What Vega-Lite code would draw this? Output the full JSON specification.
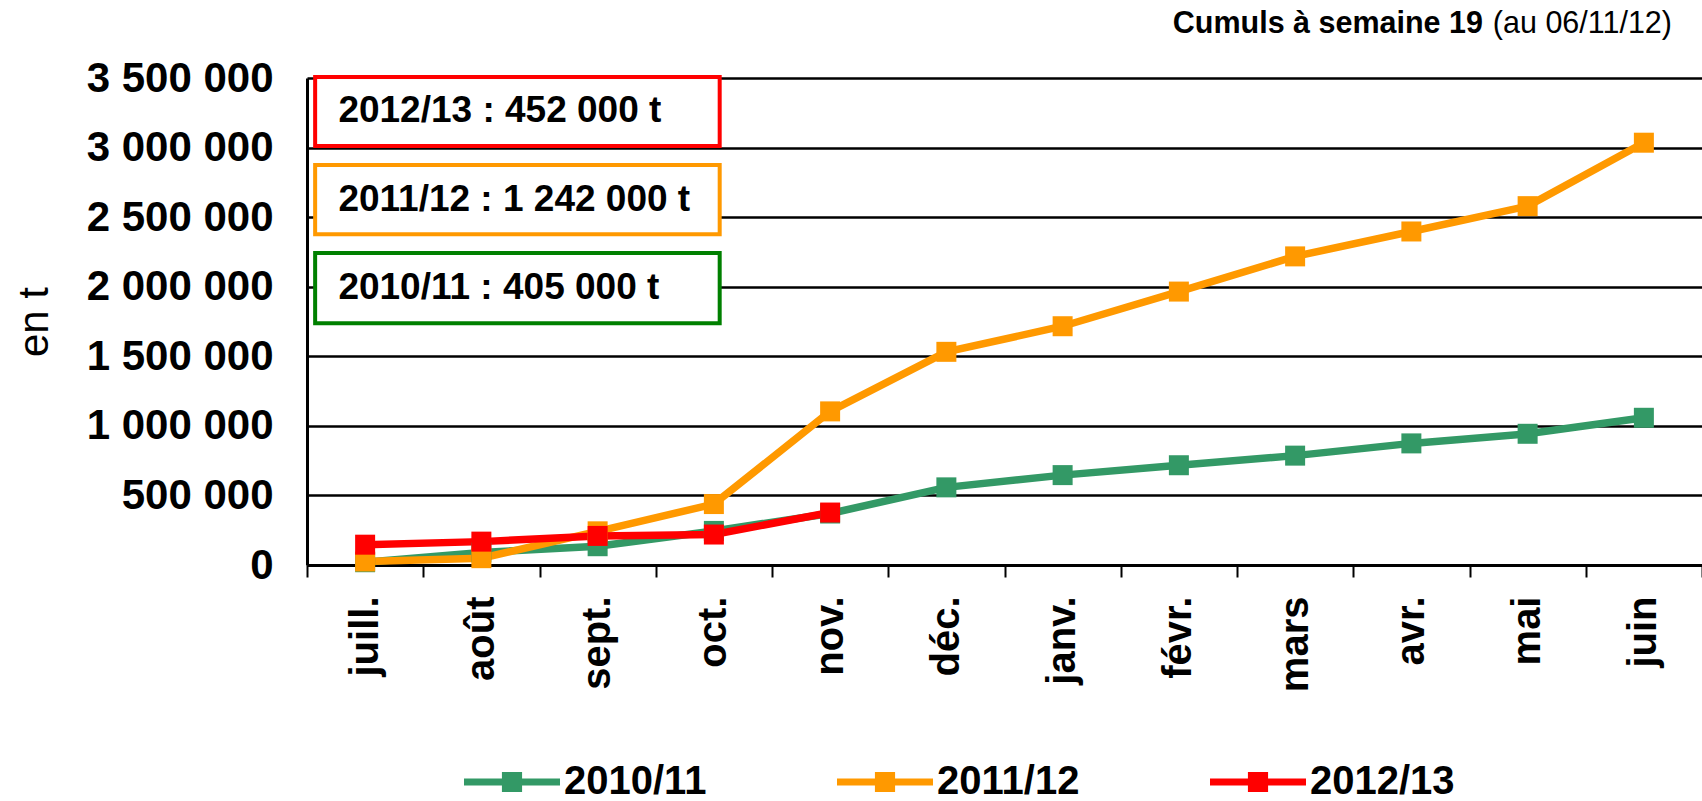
{
  "$schema": "https://vega.github.io/schema/vega-lite/v6.json",
  "width": 1395,
  "height": 487,
  "autosize": {"type": "none"},
  "padding": {"left": 307, "top": 78, "right": 0, "bottom": 236},
  "background": "white",
  "config": {"font": "Liberation Sans", "view": {"stroke": null}},
  "datasets": {
    "series": [
      {"saison": "2010/11", "mois": "juill.", "valeur": 20000},
      {"saison": "2010/11", "mois": "août", "valeur": 90000},
      {"saison": "2010/11", "mois": "sept.", "valeur": 135000},
      {"saison": "2010/11", "mois": "oct.", "valeur": 245000},
      {"saison": "2010/11", "mois": "nov.", "valeur": 370000},
      {"saison": "2010/11", "mois": "déc.", "valeur": 558000},
      {"saison": "2010/11", "mois": "janv.", "valeur": 646000},
      {"saison": "2010/11", "mois": "févr.", "valeur": 717000},
      {"saison": "2010/11", "mois": "mars", "valeur": 786000},
      {"saison": "2010/11", "mois": "avr.", "valeur": 874000},
      {"saison": "2010/11", "mois": "mai", "valeur": 943000},
      {"saison": "2010/11", "mois": "juin", "valeur": 1058000},
      {"saison": "2011/12", "mois": "juill.", "valeur": 25000},
      {"saison": "2011/12", "mois": "août", "valeur": 49000},
      {"saison": "2011/12", "mois": "sept.", "valeur": 242000},
      {"saison": "2011/12", "mois": "oct.", "valeur": 438000},
      {"saison": "2011/12", "mois": "nov.", "valeur": 1104000},
      {"saison": "2011/12", "mois": "déc.", "valeur": 1532000},
      {"saison": "2011/12", "mois": "janv.", "valeur": 1716000},
      {"saison": "2011/12", "mois": "févr.", "valeur": 1965000},
      {"saison": "2011/12", "mois": "mars", "valeur": 2218000},
      {"saison": "2011/12", "mois": "avr.", "valeur": 2397000},
      {"saison": "2011/12", "mois": "mai", "valeur": 2579000},
      {"saison": "2011/12", "mois": "juin", "valeur": 3035000},
      {"saison": "2012/13", "mois": "juill.", "valeur": 146000},
      {"saison": "2012/13", "mois": "août", "valeur": 168000},
      {"saison": "2012/13", "mois": "sept.", "valeur": 209000},
      {"saison": "2012/13", "mois": "oct.", "valeur": 219000},
      {"saison": "2012/13", "mois": "nov.", "valeur": 377000}
    ],
    "encadres": [
      {"saison": "2012/13", "texte": "2012/13 : 452 000 t", "haut": 3507000, "bas": 3012000, "milieu": 3259500},
      {"saison": "2011/12", "texte": "2011/12 : 1 242 000 t", "haut": 2875000, "bas": 2377000, "milieu": 2626000},
      {"saison": "2010/11", "texte": "2010/11 : 405 000 t", "haut": 2243000, "bas": 1737000, "milieu": 1990000}
    ],
    "titre": [
      {"partie": "gras", "texte": "Cumuls à semaine 19"},
      {"partie": "normal", "texte": "(au 06/11/12)"}
    ]
  },
  "layer": [
    {
      "data": {"name": "series"},
      "mark": {
        "type": "line",
        "strokeWidth": 7.5,
        "point": {"shape": "square", "size": 400, "filled": true, "opacity": 1}
      },
      "encoding": {
        "x": {
          "field": "mois",
          "type": "ordinal",
          "sort": ["juill.", "août", "sept.", "oct.", "nov.", "déc.", "janv.", "févr.", "mars", "avr.", "mai", "juin"],
          "bandPosition": 0.5,
          "scale": {"type": "band", "paddingInner": 0, "paddingOuter": 0},
          "axis": {
            "title": null,
            "labelAngle": -90,
            "labelAlign": "right",
            "labelBaseline": "middle",
            "labelFont": "Liberation Sans",
            "labelFontSize": 40,
            "labelFontWeight": "bold",
            "labelColor": "black",
            "labelLimit": 0,
            "labelPadding": 19,
            "tickSize": 12,
            "tickColor": "black",
            "tickWidth": 2,
            "tickBand": "extent",
            "domainColor": "black",
            "domainWidth": 3,
            "grid": false
          }
        },
        "y": {
          "field": "valeur",
          "type": "quantitative",
          "scale": {"domain": [0, 3500000], "nice": false, "zero": true},
          "axis": {
            "title": "en t",
            "titleFont": "Liberation Sans",
            "titleFontSize": 42,
            "titleFontWeight": "normal",
            "titleColor": "black",
            "titlePadding": 51,
            "values": [0, 500000, 1000000, 1500000, 2000000, 2500000, 3000000, 3500000],
            "labelExpr": "replace(format(datum.value, ','), regexp(',', 'g'), ' ')",
            "labelFont": "Liberation Sans",
            "labelFontSize": 42,
            "labelFontWeight": "bold",
            "labelColor": "black",
            "labelLimit": 0,
            "labelPadding": 34,
            "tickSize": 0,
            "domainColor": "black",
            "domainWidth": 3,
            "grid": true,
            "gridColor": "black",
            "gridWidth": 2.5,
            "gridOpacity": 1
          }
        },
        "color": {
          "field": "saison",
          "type": "nominal",
          "scale": {"domain": ["2010/11", "2011/12", "2012/13"], "range": ["#339966", "#FF9900", "#FF0000"]},
          "legend": {
            "orient": "none",
            "legendX": 157,
            "legendY": 656,
            "padding": 0,
            "direction": "horizontal",
            "title": null,
            "labelFont": "Liberation Sans",
            "labelFontSize": 40,
            "labelFontWeight": "bold",
            "labelColor": "black",
            "labelLimit": 0,
            "labelOffset": 4,
            "columnPadding": 130,
            "symbolType": "M-1,-0.073H-0.21V-0.21H0.21V-0.073H1V0.073H0.21V0.21H-0.21V0.073H-1Z",
            "symbolSize": 9216,
            "symbolStrokeWidth": 0,
            "symbolOpacity": 1,
            "encode": {
              "symbols": {
                "update": {
                  "fill": {"scale": "color", "field": "value"},
                  "stroke": {"value": "transparent"}
                }
              }
            }
          }
        }
      }
    },
    {
      "layer": [
        {
          "data": {"name": "encadres"},
          "mark": {"type": "rect", "fill": "white", "strokeWidth": 4},
          "encoding": {
            "x": {"datum": 0.07, "type": "quantitative", "scale": {"domain": [0, 12], "nice": false, "zero": false}, "axis": null},
            "x2": {"datum": 3.55},
            "y": {"field": "haut", "type": "quantitative", "title": "en t"},
            "y2": {"field": "bas"},
            "stroke": {
              "field": "saison",
              "type": "nominal",
              "scale": {"domain": ["2010/11", "2011/12", "2012/13"], "range": ["#008000", "#FF9900", "#FF0000"]},
              "legend": null
            }
          }
        },
        {
          "data": {"name": "encadres"},
          "mark": {"type": "text", "align": "left", "baseline": "middle", "font": "Liberation Sans", "fontSize": 37, "fontWeight": "bold", "color": "black"},
          "encoding": {
            "x": {"datum": 0.27, "type": "quantitative"},
            "y": {"field": "milieu", "type": "quantitative", "title": "en t"},
            "text": {"field": "texte"}
          }
        },
        {
          "data": {"name": "titre"},
          "transform": [{"filter": "datum.partie === 'gras'"}],
          "mark": {"type": "text", "align": "right", "baseline": "middle", "font": "Liberation Sans", "fontSize": 30.5, "fontWeight": "bold", "color": "black"},
          "encoding": {
            "x": {"datum": 10.116, "type": "quantitative"},
            "y": {"datum": 3891000, "type": "quantitative", "title": "en t"},
            "text": {"field": "texte"}
          }
        },
        {
          "data": {"name": "titre"},
          "transform": [{"filter": "datum.partie === 'normal'"}],
          "mark": {"type": "text", "align": "right", "baseline": "middle", "font": "Liberation Sans", "fontSize": 30.5, "fontWeight": "normal", "color": "black"},
          "encoding": {
            "x": {"datum": 11.742, "type": "quantitative"},
            "y": {"datum": 3891000, "type": "quantitative", "title": "en t"},
            "text": {"field": "texte"}
          }
        }
      ]
    }
  ],
  "resolve": {"scale": {"x": "independent"}}
}
